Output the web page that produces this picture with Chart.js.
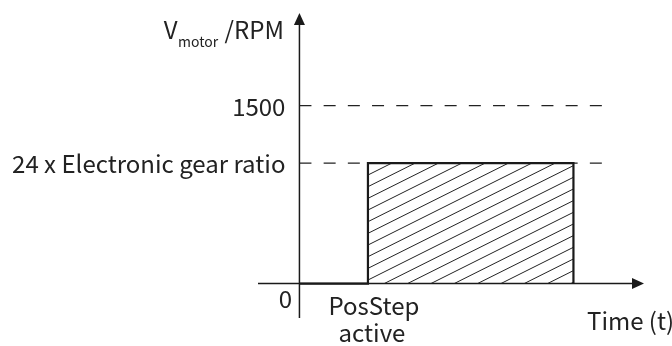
<!DOCTYPE html>
<html>
<head>
<meta charset="utf-8">
<script src="https://cdn.jsdelivr.net/npm/chart.js@4.4.1/dist/chart.umd.min.js"></script>
<style>
html,body{margin:0;padding:0;background:#fff;}
#wrap{width:672px;height:346px;}
</style>
</head>
<body>
<div id="wrap"><canvas id="c" width="672" height="346"></canvas></div>
<script>
// ---- data ----
const stepTimes  = [0, 1, 1, 4, 4];          // time (arbitrary units)
const stepSpeeds = [0, 0, 1015, 1015, 0];    // motor speed (RPM)
const refLevels  = [1500, 1015];             // dashed reference levels
const refLabels  = ['1500', '24 x Electronic gear ratio'];
const refEnd     = 4.43;                     // time where dashed lines stop
const originLabel = '0';
const eventLabel  = ['PosStep', 'active'];
const eventTime   = 1;
const xTitle      = 'Time (t)';
const yTitleMain  = 'V';
const yTitleSub   = 'motor';
const yTitleUnit  = '/RPM';
const xRange = [-0.605, 5.03];
const yRange = [-290, 2280];

const FONT = '"Noto Sans CJK SC", "Source Han Sans", "Noto Sans", sans-serif';
const INK = '#1a1a1a';

function hatchPattern() {
  const w = 70, h = 35, c = document.createElement('canvas');
  c.width = w; c.height = h;
  const g = c.getContext('2d');
  g.strokeStyle = '#222';
  g.lineWidth = 1;
  const step = h / 3;
  for (let k = -4; k <= 10; k++) {
    const b = 9 + k * step;
    g.beginPath();
    g.moveTo(-10, b + 5);
    g.lineTo(w + 10, b - (w + 10) / 2);
    g.stroke();
  }
  return document.getElementById('c').getContext('2d').createPattern(c, 'repeat');
}

const diagram = {
  id: 'diagram',
  beforeDatasetsDraw(chart) {
    const {ctx, scales: {x, y}} = chart;
    const x0 = x.getPixelForValue(0), y0 = y.getPixelForValue(0);
    const xl = x.getPixelForValue(xRange[0]), xr = x.getPixelForValue(xRange[1]);
    const yb = y.getPixelForValue(yRange[0]), yt = y.getPixelForValue(yRange[1]);
    ctx.save();
    ctx.strokeStyle = INK; ctx.fillStyle = INK; ctx.lineWidth = 1.5;
    ctx.beginPath();
    ctx.moveTo(xl, y0); ctx.lineTo(xr - 8, y0);
    ctx.moveTo(x0, yb); ctx.lineTo(x0, yt + 8);
    ctx.stroke();
    ctx.beginPath();
    ctx.moveTo(xr, y0); ctx.lineTo(xr - 12, y0 - 5.5); ctx.lineTo(xr - 12, y0 + 5.5); ctx.closePath(); ctx.fill();
    ctx.beginPath();
    ctx.moveTo(x0, yt); ctx.lineTo(x0 - 5.5, yt + 12); ctx.lineTo(x0 + 5.5, yt + 12); ctx.closePath(); ctx.fill();
    ctx.restore();
  },
  afterDatasetsDraw(chart) {
    const {ctx, scales: {x, y}} = chart;
    const x0 = x.getPixelForValue(0), y0 = y.getPixelForValue(0);
    ctx.save();
    ctx.fillStyle = '#222';
    ctx.font = '24px ' + FONT;
    // reference labels
    ctx.textAlign = 'right'; ctx.textBaseline = 'middle';
    refLevels.forEach((v, i) => ctx.fillText(refLabels[i], x0 - 14, y.getPixelForValue(v) + 1));
    // origin
    ctx.textAlign = 'center'; ctx.textBaseline = 'alphabetic';
    ctx.fillText(originLabel, x0 - 14, y0 + 24);
    // event label
    const xe = x.getPixelForValue(eventTime);
    ctx.fillText(eventLabel[0], xe + 6, y0 + 31);
    ctx.fillText(eventLabel[1], xe + 4, y0 + 58);
    // x title
    ctx.textAlign = 'left';
    ctx.fillText(xTitle, x.getPixelForValue(xRange[1]) - 57, y0 + 46);
    // y title
    const by = 39;
    let right = x0 - 15.5;
    ctx.textAlign = 'right';
    ctx.fillText(yTitleUnit, right, by);
    right -= ctx.measureText(yTitleUnit).width + 6.5;
    ctx.font = '14px ' + FONT;
    ctx.fillText(yTitleSub, right, by + 7.5);
    right -= ctx.measureText(yTitleSub).width + 0.5;
    ctx.font = '24px ' + FONT;
    ctx.fillText(yTitleMain, right, by);
    ctx.restore();
  }
};

const stepData = stepTimes.map((t, i) => ({x: t, y: stepSpeeds[i]}));
const refSets = refLevels.map(v => ({
  data: [{x: 0, y: v}, {x: refEnd, y: v}],
  borderColor: '#222', borderWidth: 1.3, borderDash: [12, 12.2],
  pointRadius: 0, fill: false, order: 2
}));

new Chart(document.getElementById('c'), {
  type: 'line',
  data: {
    datasets: [
      {
        data: stepData,
        borderColor: INK, borderWidth: 2.2,
        backgroundColor: hatchPattern(),
        fill: 'origin', pointRadius: 0, tension: 0, order: 1
      },
      ...refSets
    ]
  },
  options: {
    responsive: false,
    animation: false,
    events: [],
    layout: {padding: {left: 258, right: 28, top: 13, bottom: 28}},
    plugins: {legend: {display: false}, tooltip: {enabled: false}},
    scales: {
      x: {type: 'linear', min: xRange[0], max: xRange[1], display: false},
      y: {type: 'linear', min: yRange[0], max: yRange[1], display: false}
    }
  },
  plugins: [diagram]
});
</script>
</body>
</html>
